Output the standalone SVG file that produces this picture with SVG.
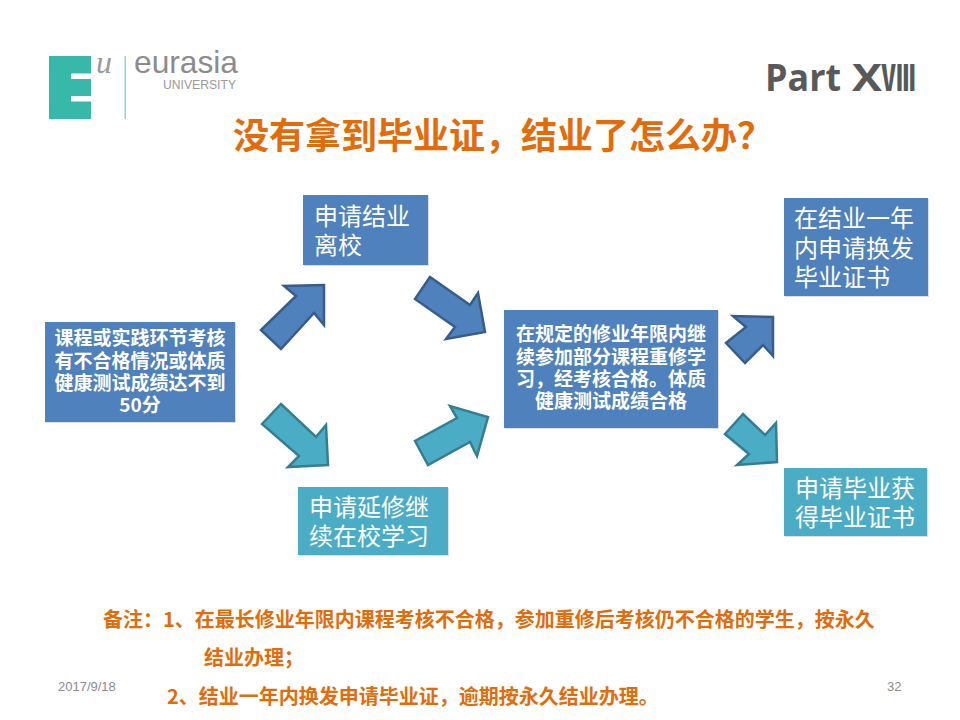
<svg xmlns="http://www.w3.org/2000/svg" width="960" height="720" viewBox="0 0 960 720">
<style>
text{font-family:"Noto Sans CJK SC","Noto Sans",sans-serif}
.b{fill:#4F81BD}.t{fill:#4BACC6}
.ab{fill:#4F81BD;stroke:#385D8A;stroke-width:2.5}
.at{fill:#4BACC6;stroke:#357D91;stroke-width:2.5}
.l{fill:#fff;font-size:24px}
.s{fill:#fff;font-size:19px;font-weight:700;text-anchor:middle}
.n{fill:#E36C0A;font-size:20px;font-weight:700}
.f{fill:#8B8B8B;font-size:13px;font-family:"Liberation Sans",sans-serif}
.sh{fill:#C8C8C8;opacity:.6}
</style>
<rect width="960" height="720" fill="#fff"/>
<g id="logo">
<rect x="49" y="56" width="42" height="63" fill="#38B8A8"/>
<rect x="71" y="73.5" width="20" height="5.5" fill="#fff"/>
<rect x="71" y="96" width="20" height="5.5" fill="#fff"/>
<text x="96" y="73" style="font-family:'Liberation Serif',serif;font-style:italic;font-size:32px" fill="#9A9A9A">u</text>
<rect x="124.5" y="56" width="1.5" height="63" fill="#8FD6D0"/>
<text x="134" y="73" style="font-family:'Liberation Sans',sans-serif;font-size:32px" fill="#8C8C8C" textLength="104" lengthAdjust="spacingAndGlyphs">eurasia</text>
<text x="163" y="89" style="font-family:'Liberation Sans',sans-serif;font-size:13px" fill="#999" textLength="73" lengthAdjust="spacingAndGlyphs">UNIVERSITY</text>
</g>
<g id="part">
<text x="765" y="91" style="font-family:'Open Sans',sans-serif;font-size:38px;font-weight:700" fill="#595959" textLength="76" lengthAdjust="spacingAndGlyphs">Part</text>
<text x="852" y="91" style="font-family:'Open Sans',sans-serif;font-size:38px;font-weight:700" fill="#595959" textLength="30" lengthAdjust="spacingAndGlyphs">X</text>
<text x="881" y="91" style="font-family:'Noto Sans CJK SC',sans-serif;font-size:36px;font-weight:700" fill="#595959" textLength="35" lengthAdjust="spacingAndGlyphs">Ⅷ</text>
</g>
<text id="title" x="503" y="149" text-anchor="middle" style="font-size:36px;font-weight:700" fill="#E36C0A">没有拿到毕业证，结业了怎么办？</text>
<g id="connectors">
<polygon class="ab" points="261,330 281,349 314,313 324,325 324,285 284,286 296,296"/>
<polygon class="ab" points="430,277 415,299 455,327 446,339 485,332 478,293 470,305"/>
<polygon class="at" points="262,424 281,404 316,437 326,425 328,465 288,467 299,456"/>
<polygon class="at" points="415,441 428,465 470,442 477,456 488,417 450,406 457,418"/>
<polygon class="ab" points="726,343 745,363 763,345 773,356 773,317 733,316 746,327"/>
<polygon class="at" points="725,434 743,414 765,435 776,423 777,462 737,465 749,454"/>
</g>
<g id="n1">
<rect class="sh" x="46" y="323" width="190" height="100"/>
<rect class="b" x="45" y="322" width="190" height="100"/>
<text class="s" x="140" y="345">课程或实践环节考核</text>
<text class="s" x="140" y="368">有不合格情况或体质</text>
<text class="s" x="140" y="390">健康测试成绩达不到</text>
<text class="s" x="140" y="412">50分</text>
</g>
<g id="n2">
<rect class="sh" x="304" y="196" width="125" height="70"/>
<rect class="b" x="303" y="195" width="125" height="70"/>
<text class="l" x="314" y="225">申请结业</text>
<text class="l" x="314" y="254">离校</text>
</g>
<g id="n3">
<rect class="sh" x="299" y="488" width="150" height="68"/>
<rect class="t" x="298" y="487" width="150" height="68"/>
<text class="l" x="309" y="516">申请延修继</text>
<text class="l" x="309" y="545">续在校学习</text>
</g>
<g id="n4">
<rect class="sh" x="505" y="311" width="214" height="118"/>
<rect class="b" x="504" y="310" width="214" height="118"/>
<text class="s" x="611" y="341">在规定的修业年限内继</text>
<text class="s" x="611" y="364">续参加部分课程重修学</text>
<text class="s" x="611" y="386">习，经考核合格。体质</text>
<text class="s" x="611" y="408">健康测试成绩合格</text>
</g>
<g id="n5">
<rect class="sh" x="785" y="199" width="144" height="98"/>
<rect class="b" x="784" y="198" width="144" height="98"/>
<text class="l" x="794" y="227">在结业一年</text>
<text class="l" x="794" y="257">内申请换发</text>
<text class="l" x="794" y="286">毕业证书</text>
</g>
<g id="n6">
<rect class="sh" x="785" y="469" width="143" height="68"/>
<rect class="t" x="784" y="468" width="143" height="68"/>
<text class="l" x="795" y="497">申请毕业获</text>
<text class="l" x="795" y="526">得毕业证书</text>
</g>
<g id="notes">
<text class="n" x="103" y="627">备注：1、在最长修业年限内课程考核不合格，参加重修后考核仍不合格的学生，按永久</text>
<text class="n" x="204" y="665">结业办理；</text>
<text class="n" x="167" y="704">2、结业一年内换发申请毕业证，逾期按永久结业办理。</text>
</g>
<text class="f" x="58" y="691">2017/9/18</text>
<text class="f" x="887" y="691">32</text>
</svg>
